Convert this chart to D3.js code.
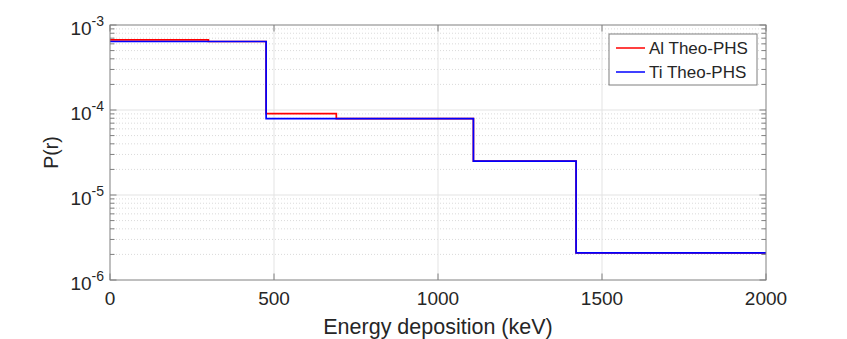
<!DOCTYPE html>
<html>
<head>
<meta charset="utf-8">
<script src="https://cdn.jsdelivr.net/npm/d3@7"></script>
<style>
  body { margin: 0; background: #fff; }
  svg text { font-family: "Liberation Sans", Arial, Helvetica, sans-serif; fill: #262626; }
</style>
</head>
<body>
<div id="chart"></div>
<script>
// step edges (keV) and probability per step
const alEdges = [0, 300, 476, 690, 1108, 1421, 2000]
const alValues = [6.7e-4, 6.4e-4, 9.05e-5, 7.9e-5, 2.5e-5, 2.08e-6]
const tiEdges = [0, 476, 1108, 1421, 2000]
const tiValues = [6.4e-4, 7.9e-5, 2.5e-5, 2.08e-6]

const xTicks = [0, 500, 1000, 1500, 2000]
const yDecades = [-6, -5, -4, -3]

const series = [
  { name: 'Al Theo-PHS', edges: alEdges, values: alValues, color: '#ff0000' },
  { name: 'Ti Theo-PHS', edges: tiEdges, values: tiValues, color: '#0000ff' }
]

const width = 847
const height = 339
const margin = { top: 25, right: 81, bottom: 59, left: 110 }
const iw = width - margin.left - margin.right
const ih = height - margin.top - margin.bottom

const svg = d3.select('#chart').append('svg')
  .attr('width', width)
  .attr('height', height)

const g = svg.append('g').attr('transform', `translate(${margin.left},${margin.top})`)

const x = d3.scaleLinear().domain([0, 2000]).range([0, iw])
const y = d3.scaleLog().domain([1e-6, 1e-3]).range([ih, 0])

// minor values 2..9 x 10^k
const minors = []
yDecades.slice(0, -1).forEach(k => {
  for (let m = 2; m <= 9; m++) minors.push(m * Math.pow(10, k))
})

// grid
g.append('g').selectAll('line').data(minors).enter().append('line')
  .attr('x1', 0).attr('x2', iw)
  .attr('y1', d => y(d)).attr('y2', d => y(d))
  .attr('stroke', '#d0d0d0').attr('stroke-width', 0.8)
  .attr('stroke-dasharray', '1,2')

g.append('g').selectAll('line').data(yDecades.slice(1, -1)).enter().append('line')
  .attr('x1', 0).attr('x2', iw)
  .attr('y1', d => y(Math.pow(10, d))).attr('y2', d => y(Math.pow(10, d)))
  .attr('stroke', '#e3e3e3').attr('stroke-width', 1)

g.append('g').selectAll('line').data(xTicks.slice(1, -1)).enter().append('line')
  .attr('x1', d => x(d)).attr('x2', d => x(d))
  .attr('y1', 0).attr('y2', ih)
  .attr('stroke', '#e3e3e3').attr('stroke-width', 1)

// step lines
const line = d3.line()
  .x(d => x(d[0]))
  .y(d => y(d[1]))
  .curve(d3.curveStepAfter)

series.forEach(s => {
  const pts = s.values.map((v, i) => [s.edges[i], v])
  pts.push([s.edges[s.edges.length - 1], s.values[s.values.length - 1]])
  g.append('path')
    .datum(pts)
    .attr('fill', 'none')
    .attr('stroke', s.color)
    .attr('stroke-width', 1.7)
    .attr('d', line)
})

// box + inward ticks
const axisColor = '#808080'
g.append('rect')
  .attr('width', iw).attr('height', ih)
  .attr('fill', 'none').attr('stroke', axisColor).attr('stroke-width', 1)

const tickLen = 6.5
const ticks = g.append('g').attr('stroke', axisColor).attr('stroke-width', 1)
xTicks.forEach(t => {
  ticks.append('line').attr('x1', x(t)).attr('x2', x(t)).attr('y1', ih).attr('y2', ih - tickLen)
  ticks.append('line').attr('x1', x(t)).attr('x2', x(t)).attr('y1', 0).attr('y2', tickLen)
})
const allY = yDecades.map(d => Math.pow(10, d)).concat(minors)
allY.forEach(v => {
  const len = minors.includes(v) ? 4.5 : tickLen
  ticks.append('line').attr('x1', 0).attr('x2', len).attr('y1', y(v)).attr('y2', y(v))
  ticks.append('line').attr('x1', iw).attr('x2', iw - len).attr('y1', y(v)).attr('y2', y(v))
})

// tick labels
g.append('g').selectAll('text').data(xTicks).enter().append('text')
  .attr('x', d => x(d))
  .attr('y', ih + 25)
  .attr('text-anchor', 'middle')
  .attr('font-size', 19)
  .text(d => d)

const yl = g.append('g').selectAll('text').data(yDecades).enter().append('text')
  .attr('x', -6)
  .attr('y', d => y(Math.pow(10, d)) + 10)
  .attr('text-anchor', 'end')
  .attr('font-size', 19)
yl.append('tspan').text('10')
yl.append('tspan').attr('dy', -9).attr('font-size', 14).text(d => '-' + Math.abs(d))

// axis titles
svg.append('text')
  .attr('x', margin.left + iw / 2)
  .attr('y', 334)
  .attr('text-anchor', 'middle')
  .attr('font-size', 21.5)
  .text('Energy deposition (keV)')

svg.append('text')
  .attr('transform', `translate(58,${margin.top + ih / 2}) rotate(-90)`)
  .attr('text-anchor', 'middle')
  .attr('font-size', 19.5)
  .text('P(r)')

// legend
const lg = svg.append('g').attr('transform', 'translate(609,34)')
lg.append('rect')
  .attr('width', 148).attr('height', 51)
  .attr('fill', '#fff').attr('stroke', '#7f7f7f').attr('stroke-width', 1)
series.forEach((s, i) => {
  const cy = 14 + i * 24
  lg.append('line')
    .attr('x1', 7).attr('x2', 36).attr('y1', cy).attr('y2', cy)
    .attr('stroke', s.color).attr('stroke-width', 1.5)
  lg.append('text')
    .attr('x', 40).attr('y', cy + 6)
    .attr('font-size', 17)
    .text(s.name)
})
</script>
</body>
</html>
